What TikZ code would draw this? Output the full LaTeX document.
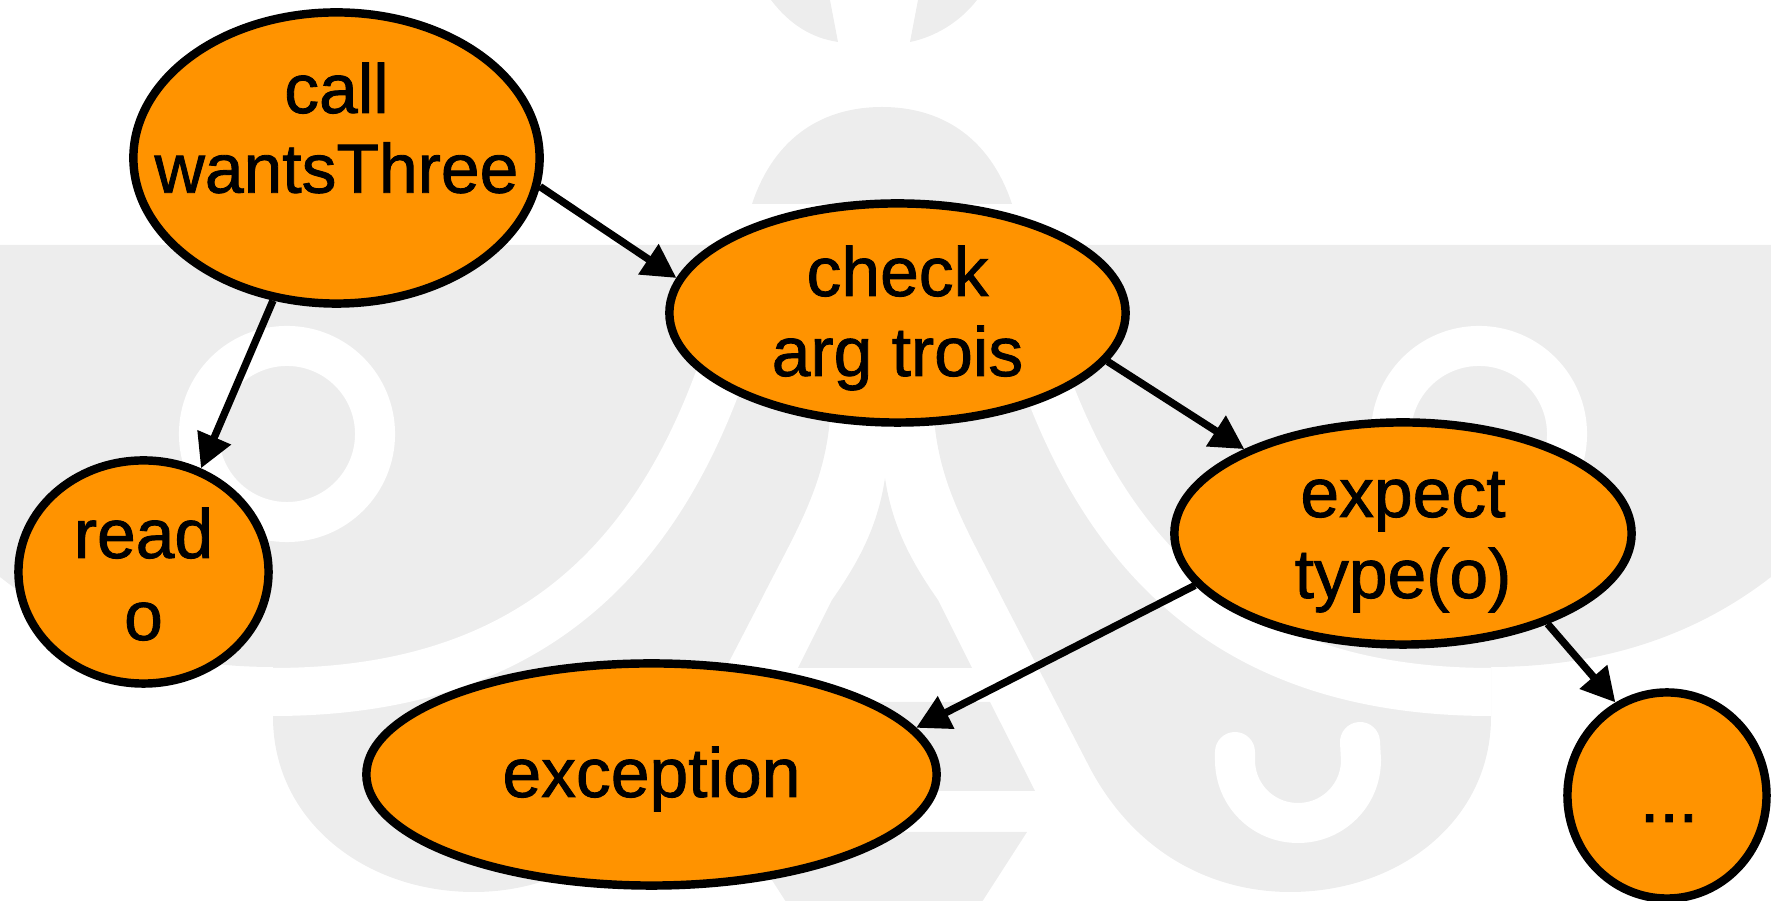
\documentclass[tikz,border=0pt]{standalone}
\usepackage{fontspec}
\setmainfont{Liberation Sans}
\newfontfamily\lblfont{Liberation Sans}[FakeBold=1.2]
\usetikzlibrary{arrows.meta,shapes.geometric}
\definecolor{wmgrey}{RGB}{237,237,237}
\definecolor{nodeorange}{RGB}{255,147,0}
\begin{document}
\begin{tikzpicture}[x=0.01cm,y=-0.01cm,
  wm/.style={fill=wmgrey},
  wmcut/.style={draw=white, line cap=butt},
  ell/.style={ellipse, draw=black, fill=nodeorange, line width=2.4pt, inner sep=0pt},
  lbl/.style={anchor=base, inner sep=0pt, font=\lblfont\fontsize{19.8pt}{23pt}\selectfont},
  conn/.style={draw=black, line width=2.1pt, -{Triangle[length=9.6pt,width=9.9pt]}}]
\useasboundingbox (0,0) rectangle (1771,901);
\begin{scope}
\clip (0,0) rectangle (1771,901);
% watermark: top pieces and dome
\fill[wm] (771,0) .. controls (790,25) and (812,38) .. (838,42) -- (830,0) -- cycle;
\fill[wm] (918,0) -- (910,42) .. controls (935,37) and (960,22) .. (977,0) -- cycle;
\fill[wm] (752,204) .. controls (775,135) and (825,107) .. (882,107) .. controls (939,107) and (989,135) .. (1012,204) -- cycle;
% watermark: face and lobes
\fill[wm] (0,245) -- (1771,245) -- (1771,577) .. controls (1690,640) and (1594,667) .. (1491,667) -- (1491,717)
  .. controls (1491,820) and (1400,892) .. (1290,892) .. controls (1220,892) and (1140,860) .. (1091,770)
  -- (1003,600) .. controls (965,525) and (935,480) .. (933,400) -- (831,400)
  .. controls (829,480) and (799,525) .. (761,600) -- (673,770)
  .. controls (624,860) and (544,892) .. (474,892) .. controls (364,892) and (273,820) .. (273,717)
  -- (273,667) .. controls (170,667) and (80,640) .. (0,577) -- cycle;
% watermark: inside the A
\fill[wm] (885,478) .. controls (892,525) and (910,560) .. (938,600) -- (972,668) -- (798,668) -- (832,600) .. controls (860,560) and (878,525) .. (885,478) -- cycle;
\fill[wm] (780,702) -- (990,702) -- (1035,791) -- (735,791) -- cycle;
\fill[wm] (741,832) -- (1027,832) -- (980,905) -- (788,905) -- cycle;
% watermark: white cuts
\draw[wmcut, line width=0.48cm] (273,692) .. controls (520,692) and (660,570) .. (732,340);
\draw[wmcut, line width=0.48cm] (1491,692) .. controls (1244,692) and (1104,570) .. (1032,340);
\draw[draw=white, line width=0.4cm] (287,434) circle[radius=0.88cm];
\draw[draw=white, line width=0.4cm] (1479,434) circle[radius=0.88cm];
\draw[draw=white, line width=0.4cm, line cap=round] (1235,752) -- (1235,760) .. controls (1235,795) and (1263,823) .. (1298,823) .. controls (1333,823) and (1361,795) .. (1361,760) -- (1360,742);
\end{scope}
% nodes
\node[ell, minimum width=4.06cm, minimum height=2.91cm] (call) at (336.5,158) {};
\node[ell, minimum width=4.56cm, minimum height=2.19cm] (check) at (897.5,313) {};
\node[ell, minimum width=4.57cm, minimum height=2.22cm] (expect) at (1403,533.5) {};
\node[ell, minimum width=2.50cm, minimum height=2.23cm] (read) at (143.5,572) {};
\node[ell, minimum width=5.70cm, minimum height=2.22cm] (exc) at (651.5,774.5) {};
\node[ell, minimum width=1.99cm, minimum height=2.06cm] (dots) at (1667,795.5) {};
% labels
\node[lbl] (callA) at (336.5,113) {call};
\node[lbl] (callB) at (336.5,192.7) {wantsThree};
\node[lbl] (checkA) at (897.5,296) {check};
\node[lbl] (checkB) at (897.5,376) {arg trois};
\node[lbl] (expA) at (1403,517) {expect};
\node[lbl] (expB) at (1403,598) {type(o)};
\node[lbl] (readA) at (143.5,558) {read};
\node[lbl] (readB) at (143.5,640) {o};
\node[lbl] (excA) at (651.5,797) {exception};
\node[lbl] (dotsA) at (1669,822) {...};
% connectors
\draw[conn] (call.-8) -- (check.171);
\draw[conn] (call.246) -- (read.61);
\draw[conn] (check.-13) -- (expect.152);
\draw[conn] (expect.194) -- (exc.10);
\draw[conn] (expect.-32) -- (dots.119);
\end{tikzpicture}
\end{document}
